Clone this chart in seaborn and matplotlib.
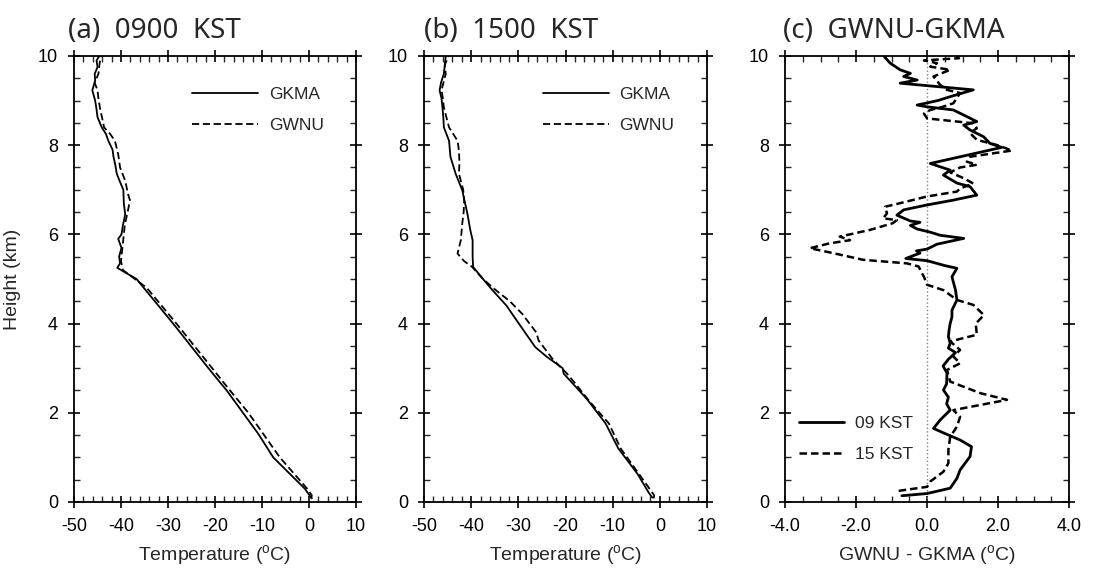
import numpy as np
import pandas as pd
import matplotlib
matplotlib.use('Agg')
import matplotlib.pyplot as plt
from matplotlib.ticker import MultipleLocator
import seaborn as sns

# (a) 0900 KST profiles
a_gkma_h = [0.08, 0.12, 0.3, 1.0, 1.53, 2.5, 3.0, 4.0, 5.0, 5.25, 5.35, 5.5, 5.7, 5.9, 6.0, 6.2, 6.45, 6.7,
            7.0, 7.2, 7.36, 7.55, 7.74, 7.9, 8.1, 8.25, 8.4, 8.63, 8.8, 9.0, 9.23, 9.45, 9.6, 9.75, 9.9, 10.0]
a_gkma_t = [0.6, 0.3, -0.9, -7.6, -10.8, -17.5, -21.4, -28.9, -36.7, -40.8, -40.2, -40.4, -39.9, -40.6, -39.9,
            -39.6, -39.1, -39.4, -39.5, -40.3, -40.9, -41.2, -41.6, -41.8, -42.7, -43.2, -44.1, -45.0, -45.2,
            -45.5, -46.1, -45.5, -45.6, -45.0, -45.2, -44.6]
a_gwnu_h = [0.08, 0.15, 0.3, 1.0, 2.0, 2.5, 3.0, 4.0, 4.8, 5.2, 5.4, 5.6, 5.9, 6.2, 6.6, 6.77, 6.9, 7.2, 7.5,
            7.8, 8.1, 8.25, 8.4, 8.6, 8.85, 9.05, 9.23, 9.4, 9.6, 9.8, 10.0]
a_gwnu_t = [0.5, 0.6, -0.4, -6.2, -12.9, -16.8, -20.6, -28.2, -34.5, -39.6, -40.0, -39.8, -39.5, -39.2, -38.4,
            -38.1, -38.5, -39.1, -40.2, -40.6, -41.3, -42.3, -43.6, -44.0, -44.5, -44.8, -45.0, -45.6, -44.8,
            -44.6, -44.3]

# (b) 1500 KST profiles
b_gkma_h = [0.1, 0.2, 0.64, 1.2, 1.76, 2.3, 2.88, 3.0, 3.25, 3.47, 4.0, 4.4, 4.75, 5.0, 5.27, 5.5, 5.87, 6.1,
            6.46, 6.7, 6.99, 7.36, 7.74, 8.1, 8.4, 8.6, 8.85, 9.05, 9.23, 9.4, 9.6, 9.8, 10.0]
b_gkma_t = [-1.6, -2.3, -4.8, -8.8, -11.5, -15.4, -20.4, -20.6, -23.9, -26.4, -29.9, -32.5, -35.5, -37.5,
            -39.6, -39.7, -39.7, -40.2, -40.8, -41.3, -41.9, -43.3, -44.4, -44.7, -45.8, -45.9, -46.1, -46.3,
            -46.7, -46.4, -45.8, -45.6, -45.4]
b_gwnu_h = [0.08, 0.15, 0.64, 1.2, 1.76, 2.0, 2.28, 2.6, 2.88, 3.2, 3.62, 3.8, 4.22, 4.5, 4.75, 5.0, 5.27, 5.4,
            5.57, 5.7, 5.87, 6.24, 6.5, 6.76, 7.0, 7.36, 7.6, 7.88, 8.1, 8.4, 8.6, 8.85, 9.05, 9.23, 9.6, 9.8,
            10.0]
b_gwnu_t = [-1.3, -1.2, -4.5, -8.3, -10.8, -12.8, -15.1, -17.5, -19.7, -22.7, -25.7, -26.2, -29.2, -31.8,
            -34.8, -37.5, -39.8, -41.5, -42.9, -42.6, -42.2, -41.9, -41.6, -41.5, -41.7, -42.6, -42.5, -42.6,
            -42.9, -44.7, -45.2, -45.8, -46.0, -46.3, -45.4, -45.6, -44.8]

# (c) GWNU - GKMA differences
c_09_h = [0.14, 0.19, 0.31, 0.53, 0.72, 1.02, 1.24, 1.39, 1.55, 1.65, 1.84, 2.06, 2.2, 2.35, 2.51, 2.65, 2.89,
          3.05, 3.2, 3.35, 3.45, 3.56, 3.71, 3.86, 4.0, 4.15, 4.3, 4.53, 4.75, 4.9, 5.05, 5.24, 5.3, 5.41, 5.46,
          5.58, 5.63, 5.67, 5.78, 5.91, 5.98, 6.05, 6.12, 6.2, 6.27, 6.3, 6.43, 6.55, 6.66, 6.77, 6.88, 7.07,
          7.15, 7.33, 7.44, 7.59, 7.74, 7.95, 8.04, 8.19, 8.34, 8.45, 8.53, 8.64, 8.79, 8.86, 8.9, 9.0, 9.1,
          9.24, 9.39, 9.46, 9.54, 9.61, 9.69, 9.84, 9.98]
c_09_d = [-0.71, 0.0, 0.65, 0.84, 0.93, 1.21, 1.25, 0.93, 0.46, 0.18, 0.37, 0.65, 0.55, 0.6, 0.46, 0.55, 0.56,
          0.45, 0.6, 0.8, 0.6, 0.65, 0.6, 0.62, 0.65, 0.7, 0.7, 0.84, 0.8, 0.75, 0.7, 0.84, 0.5, 0.0, -0.6,
          -0.2, -0.3, 0.0, 0.28, 1.03, 0.37, 0.09, -0.28, -0.47, -0.2, -0.47, -0.85, -0.66, 0.0, 0.75, 1.4,
          1.21, 0.84, 0.46, 0.65, 0.09, 0.93, 2.1, 1.77, 1.59, 1.21, 1.03, 1.4, 1.12, 0.74, 0.0, -0.28, 0.3,
          0.7, 1.3, -0.76, -0.28, -0.66, -0.47, -0.76, -1.04, -1.2]
c_15_h = [0.25, 0.34, 0.46, 0.68, 0.87, 1.17, 1.46, 1.69, 1.91, 2.06, 2.29, 2.44, 2.7, 2.96, 3.11, 3.26, 3.41,
          3.6, 3.75, 4.0, 4.19, 4.42, 4.53, 4.75, 4.87, 5.05, 5.28, 5.35, 5.43, 5.58, 5.69, 5.8, 5.87, 5.95,
          6.1, 6.25, 6.32, 6.36, 6.47, 6.62, 6.7, 6.85, 6.96, 7.03, 7.14, 7.26, 7.39, 7.5, 7.56, 7.63, 7.74,
          7.88, 8.0, 8.12, 8.27, 8.38, 8.49, 8.53, 8.6, 8.71, 8.79, 8.85, 8.94, 9.17, 9.24, 9.35, 9.54, 9.69,
          9.76, 9.84, 9.9, 9.95, 10.0]
c_15_d = [-0.8, 0.0, 0.09, 0.46, 0.6, 0.6, 0.65, 0.84, 0.93, 0.74, 2.25, 1.5, 0.65, 0.56, 0.93, 0.74, 0.93,
          0.65, 1.4, 1.37, 1.6, 1.3, 0.84, 0.46, 0.0, -0.09, -0.24, -0.57, -1.8, -2.65, -3.3, -2.74, -2.17,
          -2.46, -1.61, -0.97, -0.85, -1.24, -1.13, -1.18, -0.76, 0.0, 0.84, 0.93, 1.3, 1.03, 0.65, 0.93, 1.4,
          1.12, 1.21, 2.39, 1.98, 1.4, 1.21, 1.4, 1.3, 0.84, 0.0, -0.09, 0.09, 0.4, 0.74, 0.93, 0.56, 0.37,
          0.18, 0.65, 0.09, 0.28, -0.09, 0.9, 0.8]

sns.set_style("ticks")
plt.rcParams['font.family'] = ['Liberation Sans Narrow', 'Liberation Sans', 'DejaVu Sans']
plt.rcParams['mathtext.fontset'] = 'custom'
plt.rcParams['mathtext.rm'] = 'Liberation Sans'
plt.rcParams['axes.edgecolor'] = 'black'
plt.rcParams['axes.linewidth'] = 1.3

fig = plt.figure(figsize=(10.98, 5.70), dpi=100)
ax_a = fig.add_axes([0.0674, 0.1193, 0.2568, 0.7825])
ax_b = fig.add_axes([0.3862, 0.1193, 0.2577, 0.7825])
ax_c = fig.add_axes([0.7150, 0.1193, 0.2587, 0.7825])

title_font = {'family': ['Noto Sans', 'DejaVu Sans'], 'size': 20}
legend_font = {'family': ['Liberation Sans', 'DejaVu Sans'], 'size': 12.5}


def style_axis(ax, xmin, xmax, xmajor, xminor, fmt):
    ax.set_xlim(xmin, xmax)
    ax.set_ylim(0, 10)
    ax.xaxis.set_major_locator(MultipleLocator(xmajor))
    ax.xaxis.set_minor_locator(MultipleLocator(xminor))
    ax.yaxis.set_major_locator(MultipleLocator(2))
    ax.yaxis.set_minor_locator(MultipleLocator(0.5))
    ax.xaxis.set_major_formatter(plt.FuncFormatter(lambda v, p: fmt.format(v).replace('-0.0', '0.0')))
    ax.tick_params(which='major', direction='inout', length=9, width=1.2, top=True, right=True,
                   labelsize=13, pad=7, colors='black')
    ax.tick_params(which='minor', direction='in', length=4, width=1.0, top=True, right=True)
    for s in ax.spines.values():
        s.set_visible(True)
        s.set_color('black')


def profile(ax, h, t, dashes, lw, label):
    df = pd.DataFrame({'h': h, 't': t})
    sns.lineplot(data=df, x='t', y='h', sort=False, estimator=None, color='black', lw=lw,
                 ax=ax, label=label)
    if dashes:
        ax.lines[-1].set_dashes(dashes)


# panel (a)
profile(ax_a, a_gkma_h, a_gkma_t, None, 1.3, 'GKMA')
profile(ax_a, a_gwnu_h, a_gwnu_t, (4, 2), 1.3, 'GWNU')
style_axis(ax_a, -50, 10, 10, 2, '{:.0f}')
ax_a.set_xlabel('Temperature ($^\\mathregular{o}$C)', fontsize=14, labelpad=6)
ax_a.set_ylabel('Height (km)', fontsize=14, labelpad=12)
ax_a.legend(loc='upper left', bbox_to_anchor=(0.42, 0.93), frameon=False, prop=legend_font,
            handlelength=3.8, handletextpad=0.6, labelspacing=0.9, borderpad=0, borderaxespad=0)
ax_a.text(-0.022, 1.025, '(a)  0900  KST', transform=ax_a.transAxes, ha='left', va='bottom', fontdict=title_font)

# panel (b)
profile(ax_b, b_gkma_h, b_gkma_t, None, 1.3, 'GKMA')
profile(ax_b, b_gwnu_h, b_gwnu_t, (4, 2), 1.3, 'GWNU')
style_axis(ax_b, -50, 10, 10, 2, '{:.0f}')
ax_b.set_xlabel('Temperature ($^\\mathregular{o}$C)', fontsize=14, labelpad=6)
ax_b.set_ylabel('')
ax_b.legend(loc='upper left', bbox_to_anchor=(0.42, 0.93), frameon=False, prop=legend_font,
            handlelength=3.8, handletextpad=0.6, labelspacing=0.9, borderpad=0, borderaxespad=0)
ax_b.text(0.0, 1.025, '(b)  1500  KST', transform=ax_b.transAxes, ha='left', va='bottom', fontdict=title_font)

# panel (c)
ax_c.axvline(0, color='gray', ls=':', lw=1.0)
profile(ax_c, c_09_h, c_09_d, None, 2.0, '09 KST')
profile(ax_c, c_15_h, c_15_d, (3, 1.6), 1.8, '15 KST')
style_axis(ax_c, -4, 4, 2, 0.5, '{:.1f}')
ax_c.set_xlabel('GWNU - GKMA ($^\\mathregular{o}$C)', fontsize=14, labelpad=6)
ax_c.set_ylabel('')
ax_c.legend(loc='lower left', bbox_to_anchor=(0.05, 0.09), frameon=False, prop=legend_font,
            handlelength=2.6, handletextpad=0.6, labelspacing=0.9, borderpad=0, borderaxespad=0)
ax_c.text(-0.007, 1.025, '(c)  GWNU-GKMA', transform=ax_c.transAxes, ha='left', va='bottom', fontdict=title_font)

fig.savefig('out.png', dpi=100)
